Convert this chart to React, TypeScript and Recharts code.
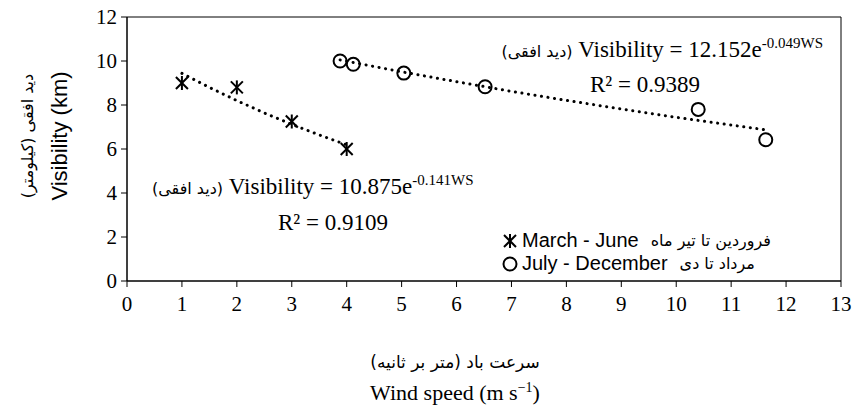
import React from "react";
import { ScatterChart, Scatter, XAxis, YAxis, ReferenceArea } from "recharts";

// measured points, wind speed (m/s) vs visibility (km)
const marchJune = [
  { ws: 1, vis: 9.0 },
  { ws: 2, vis: 8.8 },
  { ws: 3, vis: 7.25 },
  { ws: 4, vis: 6.0 },
];

const julyDecember = [
  { ws: 3.88, vis: 10.0 },
  { ws: 4.12, vis: 9.85 },
  { ws: 5.04, vis: 9.45 },
  { ws: 6.52, vis: 8.83 },
  { ws: 10.4, vis: 7.8 },
  { ws: 11.63, vis: 6.42 },
];

// exponential trendlines as drawn in the figure
const marchTrend = [
  { ws: 1, vis: 9.44 },
  { ws: 1.5, vis: 8.8 },
  { ws: 2, vis: 8.2 },
  { ws: 2.5, vis: 7.64 },
  { ws: 3, vis: 7.12 },
  { ws: 3.5, vis: 6.64 },
  { ws: 4, vis: 6.19 },
];

const julyTrend = [
  { ws: 3.88, vis: 10.05 },
  { ws: 5, vis: 9.51 },
  { ws: 6, vis: 9.06 },
  { ws: 7, vis: 8.62 },
  { ws: 8, vis: 8.21 },
  { ws: 9, vis: 7.82 },
  { ws: 10, vis: 7.44 },
  { ws: 11, vis: 7.09 },
  { ws: 11.63, vis: 6.87 },
];

const xTicks = [0, 1, 2, 3, 4, 5, 6, 7, 8, 9, 10, 11, 12, 13];
const yTicks = [0, 2, 4, 6, 8, 10, 12];

const seriesEn = ["March - June", "July - December"];
const seriesFa = ["فروردین تا تیر ماه", "مرداد تا دی"];

const serif = "'Liberation Serif', 'Times New Roman', serif";
const sans = "'Liberation Sans', Arial, sans-serif";
const farsi = "'DejaVu Sans', sans-serif";

// svg tick text ignores the props font, force it here
const css = `
.vis-chart .recharts-cartesian-axis-tick text,
.vis-chart .recharts-cartesian-axis-tick-value {
  font-family: 'Liberation Serif', 'Times New Roman', serif !important;
  font-size: 21px !important;
  fill: #000 !important;
}
`;

const Asterisk = (props: any) => {
  const { cx, cy } = props;
  if (cx == null || cy == null) return <g />;
  return (
    <g stroke="#000" strokeWidth={2}>
      <line x1={cx - 6} y1={cy - 6} x2={cx + 6} y2={cy + 6} />
      <line x1={cx - 6} y1={cy + 6} x2={cx + 6} y2={cy - 6} />
      <line x1={cx} y1={cy - 7} x2={cx} y2={cy + 7} />
    </g>
  );
};

const Ring = (props: any) => {
  const { cx, cy } = props;
  if (cx == null || cy == null) return <g />;
  return <circle cx={cx} cy={cy} r={6.5} fill="none" stroke="#000" strokeWidth={2} />;
};

const NoDot = () => <g />;

const dotted = {
  stroke: "#000",
  strokeWidth: 3,
  strokeDasharray: "0.1 6.5",
  strokeLinecap: "round",
};

const sup = { fontSize: 15, position: "relative" as const, top: -9 };
const eqStyle = {
  position: "absolute" as const,
  fontFamily: serif,
  fontSize: 23,
  whiteSpace: "nowrap" as const,
  lineHeight: "26px",
  color: "#000",
};
const faEq = { fontFamily: farsi, fontSize: 16, unicodeBidi: "isolate" as const };

export default function App() {
  return (
    <div
      className="vis-chart"
      style={{ position: "absolute", left: 0, top: 0, width: 853, height: 410, background: "#fff", fontFamily: serif }}
    >
      <style>{css}</style>
      <ScatterChart width={853} height={410} margin={{ top: 17, right: 12, bottom: 99, left: 0 }}>
        <XAxis
          type="number"
          dataKey="ws"
          domain={[0, 13]}
          ticks={xTicks}
          interval={0}
          stroke="#000"
          tickSize={6}
          tickMargin={9}
          tick={{ fill: "#000", fontSize: 21 }}
        />
        <YAxis
          type="number"
          dataKey="vis"
          domain={[0, 12]}
          ticks={yTicks}
          interval={0}
          width={127}
          stroke="#000"
          tickSize={6}
          tickMargin={4}
          tick={{ fill: "#000", fontSize: 21 }}
        />
        <ReferenceArea x1={0} x2={13} y1={0} y2={12} fill="none" stroke="#000" strokeWidth={1} />
        <Scatter data={marchTrend} shape={NoDot} line={dotted} lineType="joint" legendType="none" isAnimationActive={false} />
        <Scatter data={julyTrend} shape={NoDot} line={dotted} lineType="joint" legendType="none" isAnimationActive={false} />
        <Scatter name={seriesEn[0]} data={marchJune} shape={Asterisk} isAnimationActive={false} />
        <Scatter name={seriesEn[1]} data={julyDecember} shape={Ring} isAnimationActive={false} />
      </ScatterChart>

      {/* legend */}
      <div style={{ position: "absolute", left: 502, top: 229, fontFamily: sans, fontSize: 20, color: "#000", lineHeight: "23px" }}>
        {seriesEn.map((name, i) => (
          <div key={name} style={{ display: "flex", alignItems: "center", whiteSpace: "nowrap" }}>
            <svg width={16} height={16} style={{ marginRight: 4 }}>
              {i === 0 ? <Asterisk cx={8} cy={8} /> : <Ring cx={8} cy={8} />}
            </svg>
            <span>{name}</span>
            <span dir="rtl" style={{ fontFamily: farsi, fontSize: 16, marginLeft: 12, unicodeBidi: "isolate" }}>
              {seriesFa[i]}
            </span>
          </div>
        ))}
      </div>

      {/* y axis titles */}
      <div
        style={{
          position: "absolute", left: 60, top: 136, transform: "translate(-50%, -50%) rotate(-90deg)",
          fontFamily: sans, fontSize: 22, whiteSpace: "nowrap", color: "#000",
        }}
      >
        Visibility (km)
      </div>
      <div
        dir="rtl"
        style={{
          position: "absolute", left: 27, top: 136, transform: "translate(-50%, -50%) rotate(-90deg)",
          fontFamily: farsi, fontSize: 16, whiteSpace: "nowrap", color: "#000",
        }}
      >
        دید افقی (کیلومتر)
      </div>

      {/* x axis titles */}
      <div
        dir="rtl"
        style={{
          position: "absolute", left: 455, top: 362, transform: "translate(-50%, -50%)",
          fontFamily: farsi, fontSize: 17, whiteSpace: "nowrap", color: "#000",
        }}
      >
        سرعت باد (متر بر ثانیه)
      </div>
      <div
        style={{
          position: "absolute", left: 455, top: 393, transform: "translate(-50%, -50%)",
          fontFamily: serif, fontSize: 22, whiteSpace: "nowrap", color: "#000",
        }}
      >
        Wind speed (m s<span style={{ fontSize: 14, position: "relative", top: -8 }}>−1</span>)
      </div>

      {/* trendline equations */}
      <div style={{ ...eqStyle, right: 30, top: 37 }}>
        <span dir="rtl" style={faEq}>(دید افقی)</span> Visibility = 12.152e
        <span style={sup}>-0.049WS</span>
      </div>
      <div style={{ ...eqStyle, left: 590, top: 72 }}>R² = 0.9389</div>
      <div style={{ ...eqStyle, left: 152, top: 174 }}>
        <span dir="rtl" style={faEq}>(دید افقی)</span> Visibility = 10.875e
        <span style={sup}>-0.141WS</span>
      </div>
      <div style={{ ...eqStyle, left: 278, top: 210 }}>R² = 0.9109</div>
    </div>
  );
}
